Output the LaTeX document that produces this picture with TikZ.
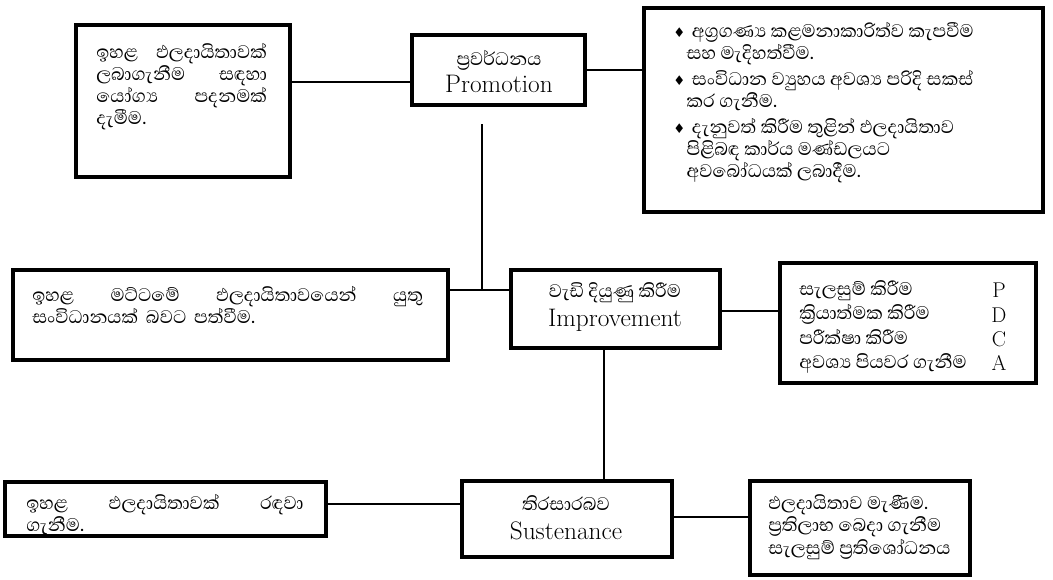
\documentclass[tikz,border=0pt]{standalone}
\usepackage{fontspec}
\usetikzlibrary{fit}
\newfontfamily\sinfont[Script=Sinhala]{Abhaya Libre}
\newfontfamily\dingfont{DejaVu Sans}
% zero width joiner (yansaya / rakaransaya)
\newcommand\zw{^^^^200d}
\newcommand\bul{\makebox[14pt][l]{\dingfont\fontsize{10}{10}\selectfont ♦}}

\tikzset{
  panel/.style={draw=black, line width=3pt, inner sep=0pt},
  wire/.style={draw=black, line width=1.2pt},
  sintext/.style={font=\sinfont\fontsize{17.5}{16.5}\selectfont, inner sep=0pt, align=left},
  lattext/.style={font=\fontsize{19}{20}\selectfont, inner sep=0pt},
}

\begin{document}
\begin{tikzpicture}[x=0.75pt, y=-0.75pt]
\fill[white] (0,0) rectangle (1053,579);
\useasboundingbox (0,0) rectangle (1053,579);

% boxes
\node[panel, fit={(76,25) (290,177)}]   (tl) {};
\node[panel, fit={(412,35) (585,105)}]  (promo) {};
\node[panel, fit={(644,8) (1043,212)}]  (tr) {};
\node[panel, fit={(13,270) (448,360)}]  (ml) {};
\node[panel, fit={(511,270) (720,348)}] (impr) {};
\node[panel, fit={(780,263) (1036,383)}] (pdca) {};
\node[panel, fit={(5,482) (326,536)}]   (bl) {};
\node[panel, fit={(462,481) (672,557)}] (sust) {};
\node[panel, fit={(750,481) (970,575)}] (br) {};

% connectors
\coordinate (ya) at (0,82);
\coordinate (yb) at (0,290);
\coordinate (yc) at (0,311);
\coordinate (xd) at (604,0);
\coordinate (ye) at (0,504);
\coordinate (yf) at (0,517);
\coordinate (vtop) at (482,124);
\draw[wire] (tl.east |- ya) -- (promo.west |- ya);
\draw[wire] (promo.east) -- (tr.west |- promo.east);
\draw[wire] (ml.east |- yb) -- (impr.west |- yb);
\draw[wire] (vtop) -- (vtop |- yb);
\draw[wire] (impr.east |- yc) -- (pdca.west |- yc);
\draw[wire] (impr.south -| xd) -- (sust.north -| xd);
\draw[wire] (bl.east |- ye) -- (sust.west |- ye);
\draw[wire] (sust.east |- yf) -- (br.west |- yf);

% texts
\node[sintext, text width=128pt, anchor=west] (tl-t) at (96,87)
  {ඉහළ\hfill ඵලදායිතාවක්\\ ලබාගැනීම\hfill සඳහා\\ යෝග්\zw ය\hfill පදනමක්\\ දැමීම.};

\node[sintext, anchor=center] (promo-s) at (499,60) {ප්\zw රවර්ධනය};
\node[lattext, anchor=center] (promo-e) at (499,84) {Promotion};

\node[sintext, anchor=west] (tr-t) at (673,103)
  {\bul අග්\zw රගණ්\zw ය කළමනාකාරිත්ව කැපවීම\\
   \hspace*{10pt}සහ මැදිහත්වීම.\\[3pt]
   \bul සංවිධාන ව්\zw යුහය අවශ්\zw ය පරිදි සකස්\\
   \hspace*{10pt}කර ගැනීම.\\[3pt]
   \bul දැනුවත් කිරීම තුළින් ඵලදායිතාව\\
   \hspace*{10pt}පිළිබඳ කාර්ය මණ්ඩලයට\\
   \hspace*{10pt}අවබෝධයක් ලබාදීම.};

\node[sintext, text width=293pt, anchor=west] (ml-t) at (32,305)
  {ඉහළ\hfill මට්ටමේ\hfill ඵලදායිතාවයෙන්\hfill යුතු\\ සංවිධානයක් බවට පත්වීම.};

\node[sintext, anchor=center] (impr-s) at (615,293) {වැඩි දියුණු කිරීම};
\node[lattext, anchor=center] (impr-e) at (615,320) {Improvement};

\node[sintext, anchor=west, font=\sinfont\fontsize{17.5}{18.2}\selectfont] (pdca-s) at (799,327)
  {සැලසුම් කිරීම\\ ක්\zw රියාත්මක කිරීම\\ පරීක්ෂා කිරීම\\ අවශ්\zw ය පියවර ගැනීම};
\node[lattext, anchor=center, align=center, font=\fontsize{16}{18.2}\selectfont] (pdca-l) at (999,327)
  {P\\ D\\ C\\ A};

\node[sintext, text width=208pt, anchor=west] (bl-t) at (26,515)
  {ඉහළ\hfill ඵලදායිතාවක්\hfill රඳවා\\ ගැනීම.};

\node[sintext, anchor=center] (sust-s) at (566,503) {තිරසාරබව};
\node[lattext, anchor=center] (sust-e) at (566,531) {Sustenance};

\node[sintext, anchor=west, font=\sinfont\fontsize{17.5}{16.8}\selectfont] (br-t) at (768,527)
  {ඵලදායිතාව මැණීම.\\ ප්\zw රතිලාභ බෙදා ගැනීම\\ සැලසුම් ප්\zw රතිශෝධනය};
\end{tikzpicture}
\end{document}
